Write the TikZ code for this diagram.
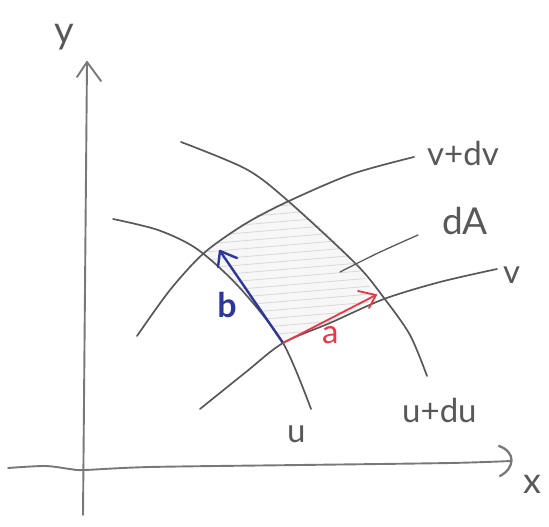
\documentclass[tikz,border=0pt]{standalone}
\usepackage{fontspec}
\setmainfont{Lato}
\definecolor{ink}{RGB}{88,88,88}
\definecolor{axisink}{RGB}{120,120,120}
\definecolor{blueink}{RGB}{45,55,155}
\definecolor{redink}{RGB}{235,55,70}
\begin{document}
\begin{tikzpicture}[x=1pt,y=-1pt,
  curve/.style={draw=ink,line width=1.7pt,line cap=round},
  axis/.style={draw=axisink,line width=1.9pt,line cap=round,line join=round},
  lbl/.style={text=ink,font=\fontsize{33}{33}\selectfont,inner sep=0pt},
  hatch/.style={draw=gray!28,line width=0.9pt,line cap=round},
]
\useasboundingbox (0,0) rectangle (549,527);

% corners of the patch dA
\coordinate (O)  at (283,343);
\coordinate (P1) at (377,298);
\coordinate (P2) at (286,200);
\coordinate (P3) at (203,253);

% shaded patch
\begin{scope}
  \clip plot[smooth] coordinates {(283,343) (330,322) (377,298)}
     -- plot[smooth] coordinates {(377,298) (356,264) (322,228) (286,200)}
     -- plot[smooth] coordinates {(286,200) (245,222) (203,253)}
     -- plot[smooth] coordinates {(203,253) (240,288) (283,343)} -- cycle;
  \fill[gray!6] (180,180) rectangle (400,360);
  \foreach \k in {0,...,18}
    \draw[hatch] (205,{212+8*\k}) -- (372,{198+8*\k});
\end{scope}

% axes
\coordinate (ytip) at (87,62);
\coordinate (xtip) at (511,461);
\draw[axis] (83,515) -- (ytip);
\draw[axis] (77,77) -- (ytip) -- (101,81);
\draw[axis] plot[smooth] coordinates {(8,468) (45,466) (70,469) (84,470) (150,467) (300,465) (450,463) (xtip)};
\draw[axis,line width=2.3pt] (499,446) .. controls (516,452) and (515,468) .. (500,476);

% coordinate curves
\draw[curve] plot[smooth] coordinates {(113,219) (158,230) (197,249) (239,287) (283,343) (311,409)};
\draw[curve] plot[smooth] coordinates {(181,142) (246,169) (287,200) (356,264) (384,298) (410,335) (427,376)};
\draw[curve] plot[smooth] coordinates {(137,336) (170,290) (204,253) (245,224) (289,201) (352,174) (414,157)};
\draw[curve] plot[smooth] coordinates {(200,409) (246,372) (283,343) (330,323) (384,299) (440,282) (497,269)};
% leader to dA
\draw[curve,line width=1.3pt] plot[smooth] coordinates {(340,272) (378,253) (418,235)};

% vectors a and b
\coordinate (btip) at (220,251);
\coordinate (atip) at (376,295);
\draw[blueink,line width=2.4pt,line cap=round] (O) -- (btip);
\draw[blueink,line width=2.4pt,line cap=round,line join=round] (237,258) -- (btip) -- (218,267);
\draw[redink,line width=1.8pt,line cap=round] (O) -- (atip);
\draw[redink,line width=1.8pt,line cap=round,line join=round] (358,291) -- (atip) -- (369,308);

% labels
\node[lbl,font=\fontsize{38}{38}\selectfont] (ylab) at (64,37) {y};
\node[lbl,font=\fontsize{36}{36}\selectfont] (xlab) at (532,484) {x};
\node[lbl,anchor=base west] (vdv) at (427,165) {v+dv};
\node[lbl,anchor=base west,font=\fontsize{37}{37}\selectfont] (dA) at (442,234) {dA};
\node[lbl,anchor=base west] (v) at (503,283) {v};
\node[lbl,anchor=base west] (udu) at (402,422) {u+du};
\node[lbl,anchor=base west] (u) at (287,442) {u};
\node[lbl,text=redink,anchor=base west] (alab) at (322,343) {a};
\node[lbl,text=blueink,font=\bfseries\fontsize{34}{34}\selectfont] (blab) at (227,305) {b};
\end{tikzpicture}
\end{document}
